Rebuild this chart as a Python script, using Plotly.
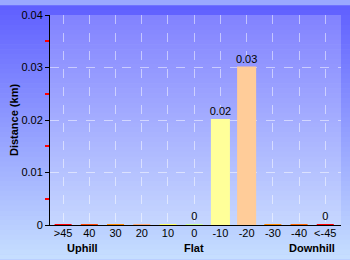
import plotly.graph_objects as go

categories = [">45", "40", "30", "20", "10", "0", "-10", "-20", "-30", "-40", "<-45"]
distance_km = [0, 0, 0, 0, 0, 0, 0.02, 0.03, 0, 0, 0]
bar_labels = ["", "", "", "", "", "0", "0.02", "0.03", "", "", "0"]
bar_colors = ["#ff0000", "#ff4400", "#ff8800", "#ffaa77", "#ffff66", "#ccff99",
              "#ffff99", "#ffcc99", "#ff8800", "#ff6600", "#ff0000"]
y_ticks = [0, 0.01, 0.02, 0.03, 0.04]
y_tick_text = ["0", "0.01", "0.02", "0.03", "0.04"]
group_labels = ["Uphill", "Flat", "Downhill"]
group_pos = [0.75, 5, 9.5]

W, H = 350, 260
ML, MR, MT, MB = 50, 9, 10, 35
PW, PH = W - ML - MR, H - MT - MB

fig = go.Figure()
fig.add_trace(go.Bar(
    x=categories, y=distance_km, width=0.65,
    marker=dict(color=bar_colors, line=dict(color=bar_colors, width=2)),
    text=bar_labels, textposition="outside", cliponaxis=False,
    constraintext="none",
    textfont=dict(size=11, color="black", family="Liberation Sans"),
    hoverinfo="skip",
))

# background gradient
shapes = []
top = (96, 96, 255)
bot = (198, 222, 255)
N = 52
x0p, x1p = -ML / PW, 1 + MR / PW
for i in range(N):
    t = i / (N - 1)
    c = tuple(round(top[k] + (bot[k] - top[k]) * t) for k in range(3))
    ya = 1 + MT / PH - (i * H / N) / PH
    yb = 1 + MT / PH - ((i + 1) * H / N + 0.5) / PH
    shapes.append(dict(type="rect", xref="paper", yref="paper", x0=x0p, x1=x1p,
                       y0=yb, y1=ya, fillcolor="rgb(%d,%d,%d)" % c,
                       line=dict(width=0), layer="below"))
shapes.append(dict(type="rect", xref="paper", yref="paper", x0=0, x1=1, y0=0, y1=1,
                   fillcolor="rgba(255,255,255,0.2)", line=dict(width=0), layer="below"))

annotations = [dict(x=p, y=-24 / PH, xref="x", yref="paper", text="<b>%s</b>" % g,
                    showarrow=False, yanchor="middle",
                    font=dict(size=11, color="black", family="Liberation Sans"))
               for g, p in zip(group_labels, group_pos)]

fig.update_layout(
    width=W, height=H,
    margin=dict(l=ML, r=MR, t=MT, b=MB, pad=0),
    paper_bgcolor="#9aa8ff", plot_bgcolor="rgba(0,0,0,0)",
    shapes=shapes, annotations=annotations,
    showlegend=False, bargap=0.35,
    font=dict(family="Liberation Sans", size=11, color="black"),
    xaxis=dict(range=[-0.5, 10.6], showline=True, linecolor="black", linewidth=1,
               showgrid=True, gridcolor="rgba(255,255,255,0.5)", griddash="dash",
               gridwidth=1, ticks="", ticklabelstandoff=-2,
               tickfont=dict(size=11), fixedrange=True),
    yaxis=dict(range=[0, 0.04], tickvals=y_ticks, ticktext=y_tick_text,
               showline=True, linecolor="black", linewidth=1,
               ticks="outside", ticklen=4, tickcolor="black",
               showgrid=True, gridcolor="rgba(255,255,255,0.5)", griddash="dash",
               zeroline=False, tickfont=dict(size=11),
               minor=dict(tickvals=[0.005, 0.015, 0.025, 0.035], ticks="outside",
                          ticklen=4, tickwidth=2, tickcolor="red", showgrid=False),
               title=dict(text="<b>Distance (km)</b>", font=dict(size=11), standoff=0),
               fixedrange=True),
)

fig.write_html("out.html")
